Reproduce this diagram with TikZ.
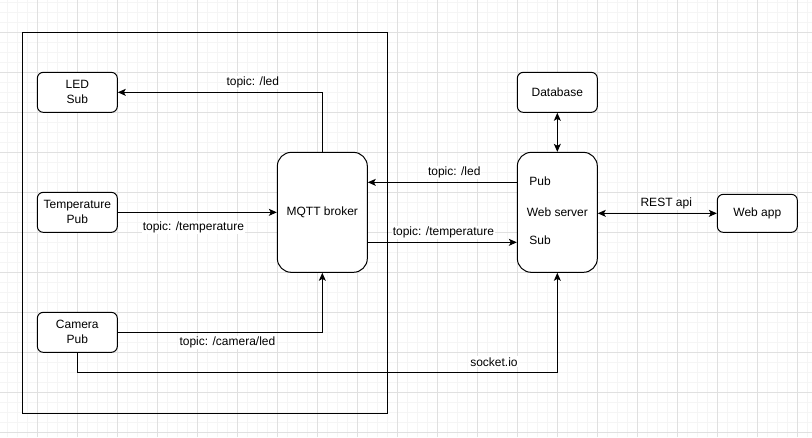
\documentclass[tikz,border=0pt]{standalone}
\usepackage{fontspec}
\setmainfont{Liberation Sans}
\usetikzlibrary{arrows.meta}
\begin{document}
\begin{tikzpicture}[x=1pt,y=-1pt,
  font=\fontsize{12}{15}\selectfont,
  minorgrid/.style={draw=black!4,line width=1pt},
  majorgrid/.style={draw=black!12,line width=1pt},
  box/.style={draw,fill=white,line width=1pt,rounded corners=6pt,inner sep=0pt,
    minimum width=80pt,minimum height=40pt,align=center},
  bigbox/.style={box,rounded corners=14pt,minimum height=120pt},
  lbl/.style={fill=white,inner sep=1pt},
  plain/.style={inner sep=0pt},
  arr/.style={line width=1pt,-{Stealth[length=8pt,width=7pt,inset=2pt]}},
  darr/.style={line width=1pt,{Stealth[length=8pt,width=7pt,inset=2pt]}-{Stealth[length=8pt,width=7pt,inset=2pt]}}]
\useasboundingbox (0,0) rectangle (812,437);
% background grid
\fill[white] (0,0) rectangle (812,437);
\foreach \i in {0,...,80} \draw[minorgrid] ({7.33+10*\i},0) -- ++(0,437);
\foreach \i in {0,...,43} \draw[minorgrid] (0,{2.33+10*\i}) -- ++(812,0);
\foreach \i in {0,...,19} \draw[majorgrid] ({37.33+40*\i},0) -- ++(0,437);
\foreach \i in {0,...,10} \draw[majorgrid] (0,{32.33+40*\i}) -- ++(812,0);
% group frame
\node[draw,line width=1pt,inner sep=0pt,minimum width=365pt,minimum height=381pt] (group) at (204.83,222.83) {};
% nodes
\node[box] (led) at (77.33,92.33) {LED\\Sub};
\node[box] (temp) at (77.33,212.33) {Temperature\\Pub};
\node[box] (cam) at (77.33,332.33) {Camera\\Pub};
\node[bigbox,minimum width=90pt] (mqtt) at (322.33,212.33) {MQTT broker};
\node[box] (db) at (557.33,92.33) {Database};
\node[bigbox] (web) at (557.33,212.33) {Web server};
\node[plain] (pub) at (540,181) {Pub};
\node[plain] (sub) at (540,240) {Sub};
\node[box,minimum height=38pt] (app) at (757.33,213.33) {Web app};
% connectors
\draw[arr] (mqtt.north) |- node[lbl,pos=0.67,yshift=10pt]{topic: /led} (led.east);
\draw[arr] (temp.east) -- node[lbl,pos=0.475,yshift=-15pt]{topic: /temperature} (mqtt.west);
\draw[arr] (cam.east) -| node[lbl,pos=0.268,yshift=-10pt]{topic: /camera/led} (mqtt.south);
\draw[arr] ([yshift=30pt]web.west) -- node[lbl,pos=0.42,yshift=10pt]{topic: /led} ([yshift=30pt]mqtt.east);
\draw[arr] ([yshift=-30pt]mqtt.east) -- node[lbl,pos=0.507,yshift=10pt]{topic: /temperature} ([yshift=-30pt]web.west);
\draw[arr] (cam.south) -- ++(0,20) -| node[lbl,pos=0.434,yshift=11pt]{socket.io} (web.south);
\draw[darr] (db.south) -- (web.north);
\draw[darr] (app.west -| web.east) -- node[lbl,pos=0.575,yshift=10pt]{REST api} (app.west);
\end{tikzpicture}
\end{document}
